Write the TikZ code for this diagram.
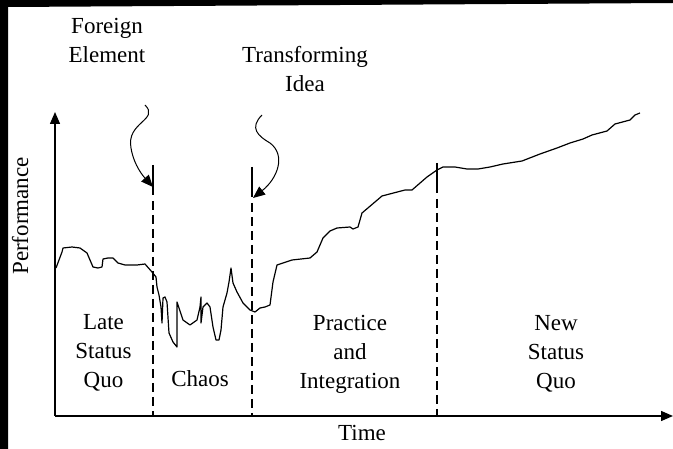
\documentclass[tikz,border=0pt]{standalone}
\usepackage{fontspec}
\setmainfont{Liberation Serif}
\usetikzlibrary{arrows.meta, positioning}

\tikzset{
  lbl/.style={align=center, inner sep=0pt, font=\fontsize{23}{29}\selectfont},
  phase/.style={dash pattern=on 30pt off 6pt on 9pt off 5pt on 9pt off 5pt on 9pt off 5pt
      on 9pt off 5pt on 9pt off 5pt on 9pt off 5pt on 9pt off 5pt on 9pt off 5pt
      on 9pt off 5pt on 9pt off 5pt on 9pt off 5pt on 9pt off 5pt on 9pt off 5pt
      on 9pt off 5pt on 9pt off 5pt on 30pt off 5pt, line width=1.1pt},
}

\begin{document}
\begin{tikzpicture}[x=1pt, y=-1pt, >={Triangle[length=12pt,width=10pt]}]
        \useasboundingbox (0,0) rectangle (673,449);
        % Scanned edge
        \fill (0,0) -- (673,0) -- (673,3) -- (8,7) -- (8,449) -- (0,449) -- cycle;
        % Axes
        \coordinate (O) at (55,416);
        \coordinate (ytip) at (55,112);
        \coordinate (xtip) at (673,416);
        \draw[->, line width=1.4pt] (O) -- (ytip);
        \draw[->, line width=1.4pt] (O) -- (xtip);
        \node[lbl, rotate=90, anchor=base] (perf) at (28,216) {Performance};
        \node[lbl, anchor=base] (time) at (362,441) {Time};
        % Phase borders
        \coordinate (fetop) at (153,165);
        \coordinate (febot) at (153,416);
        \coordinate (titop) at (252,167);
        \coordinate (tibot) at (252,416);
        \coordinate (nstop) at (437,163);
        \coordinate (nsbot) at (437,416);
        \draw[phase] (fetop) -- (febot);
        \draw[phase] (titop) -- (tibot);
        \draw[phase] (nstop) -- (nsbot);
        % Events
        \node[lbl] (fe) at (107,40.5) {Foreign\\Element};
        \node[lbl] (ti) at (305,68.7) {Transforming\\Idea};
        % Wavy arrows
        \coordinate (fesrc) at (145,105);
        \coordinate (fehit) at (153,187);
        \coordinate (tisrc) at (262,115);
        \coordinate (tihit) at (253,198);
        \draw[->, line width=1pt] (fesrc) .. controls (160,120) and (126,122) .. (131,148)
            .. controls (134,166) and (144,177) .. (fehit);
        \draw[->, line width=1pt] (tisrc) .. controls (249,128) and (258,136) .. (270,143)
            .. controls (286,155) and (278,178) .. (tihit);
        % Performance curve
        \draw[line width=1.2pt, line join=round] plot coordinates {
            (56,268) (62,252) (63,248) (72,247) (80,248) (87,253) (93,267) (98,268)
            (102,267) (103,259) (108,258) (113,258) (118,263) (125,265) (137,265)
            (145,264) (152,272) (156,277) (157,287) (159,295) (161,307) (162,323)
            (163,298) (165,297) (167,302) (169,333) (173,342) (177,347) (177,302)
            (179,308) (183,320) (190,325) (197,320) (200,307) (201,297) (201,323)
            (203,307) (207,303) (210,307) (213,327) (216,340) (219,340) (221,330)
            (223,307) (227,293) (229,282) (231,268) (233,283) (237,292) (243,303)
            (250,310) (255,312) (260,308) (265,307) (270,305) (273,282) (277,265)
            (292,260) (310,258) (317,252) (323,238) (330,231) (337,228) (350,227)
            (353,229) (358,227) (362,213) (382,196) (405,190) (412,190) (427,177)
            (437,170) (443,167) (455,167) (467,169) (478,169) (490,167) (503,164)
            (522,161) (540,154) (557,148) (570,143) (583,139) (592,135) (607,131)
            (615,124) (630,120) (635,115) (640,113)};
        % Phases
        \node[lbl] (late) at (103.5,353) {Late\\Status\\Quo};
        \node[lbl, anchor=base] (chaos) at (200,387) {Chaos};
        \node[lbl] (prac) at (350,354.6) {Practice\\and\\Integration};
        \node[lbl] (new) at (556,353.4) {New\\Status\\Quo};
\end{tikzpicture}
\end{document}
